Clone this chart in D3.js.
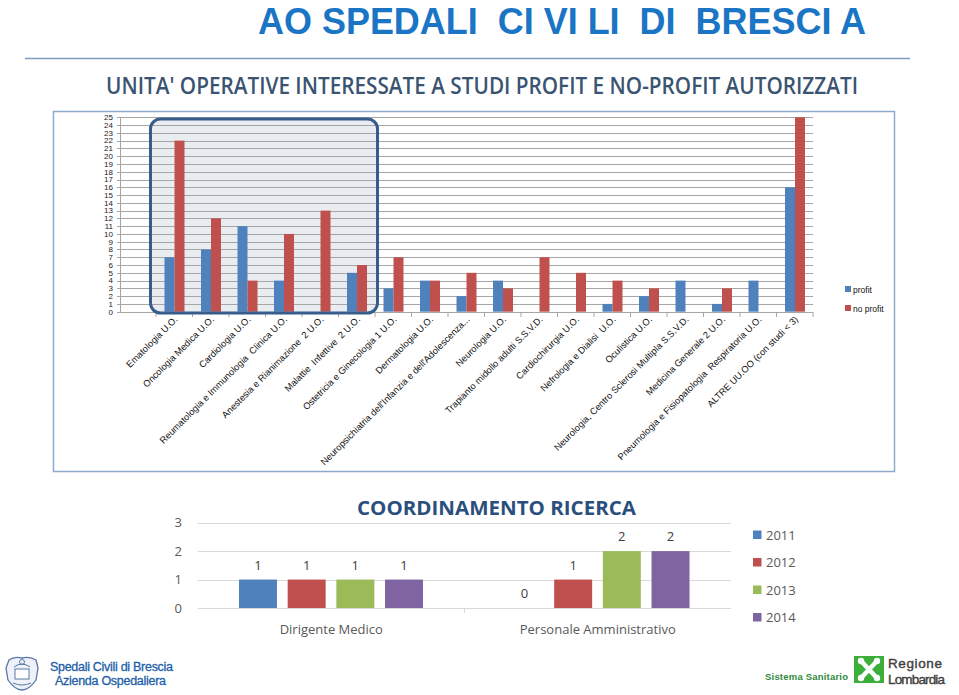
<!DOCTYPE html>
<html><head><meta charset="utf-8">
<script src="https://cdn.jsdelivr.net/npm/d3@7"></script>
<style>html,body{margin:0;padding:0;background:#fff;}svg{display:block;}</style>
</head><body>
<svg id="c" width="959" height="695"></svg>
<script>
// ---- data: top chart ----
const units = ["Ematologia U.O.", "Oncologia Medica U.O.", "Cardiologia U.O.",
  "Reumatologia e Immunologia  Clinica U.O.", "Anestesia e Rianimazione  2 U.O.",
  "Malattie  Infettive  2 U.O.", "Ostetricia e Ginecologia 1 U.O.", "Dermatologia U.O.",
  "Neuropsichiatria dell'Infanzia e dell'Adolescenza...", "Neurologia U.O.",
  "Trapianto midollo adulti S.S.V.D.", "Cardiochirurgia U.O.", "Nefrologia e Dialisi  U.O.",
  "Oculistica U.O.", "Neurologia, Centro Sclerosi Multipla S.S.V.D.", "Medicina Generale 2 U.O.",
  "Pneumologia e Fisiopatologia  Respiratoria U.O.", "ALTRE UU.OO (con studi < 3)"];
const profit   = [7, 8, 11, 4, 0, 5, 3, 4, 2, 4, 0, 0, 1, 2, 4, 1, 4, 16];
const noProfit = [22, 12, 4, 10, 13, 6, 7, 4, 5, 3, 7, 5, 4, 3, 0, 3, 0, 25];
const topSeries = ["profit", "no profit"];
const topTicks = d3.range(0, 26);

// ---- data: bottom chart ----
const roles = ["Dirigente Medico", "Personale Amministrativo"];
const years = ["2011", "2012", "2013", "2014"];
const v2011 = [1, 0];
const v2012 = [1, 1];
const v2013 = [1, 2];
const v2014 = [1, 2];
const bottomTicks = [0, 1, 2, 3];

const svg = d3.select("#c");
const BLUE = "#4f81bd", RED = "#c0504d", GREEN = "#9bbb59", PURPLE = "#8064a2";
const LIB = "Liberation Sans, Arial, sans-serif";

// ---- header ----
svg.append("text").attr("x", 258).attr("y", 33.5)
  .attr("textLength", 608).attr("lengthAdjust", "spacingAndGlyphs")
  .style("font-family", LIB).style("font-weight", "bold")
  .style("font-size", "37px").style("fill", "#1a75c5").style("white-space", "pre")
  .text("AO SPEDALI  CI VI LI  DI  BRESCI A");
svg.append("line").attr("x1", 25).attr("x2", 910).attr("y1", 58.5).attr("y2", 58.5)
  .attr("stroke", "#7f9cc4").attr("stroke-width", 1.5);
svg.append("text").attr("x", 106).attr("y", 94)
  .attr("textLength", 752).attr("lengthAdjust", "spacingAndGlyphs")
  .style("font-family", "Open Sans, Liberation Sans, sans-serif").style("font-weight", "600")
  .style("font-size", "23.5px").style("fill", "#3a5472")
  .text("UNITA' OPERATIVE INTERESSATE A STUDI PROFIT E NO-PROFIT AUTORIZZATI");

// ---- top chart ----
svg.append("rect").attr("x", 53.5).attr("y", 111.5).attr("width", 841).attr("height", 360)
  .attr("fill", "#fff").attr("stroke", "#8eaacb").attr("stroke-width", 1.5);

const yT = d3.scaleLinear().domain([0, 25]).range([311.7, 117.3]);
const xT = d3.scaleBand().domain(units).range([156, 813]);
const xT1 = d3.scaleBand().domain(topSeries).range([8.5, 28.5]);

// highlight box fill
svg.append("rect").attr("x", 150.5).attr("y", 119).attr("width", 227).attr("height", 194)
  .attr("rx", 10).attr("fill", "#e9edf2").attr("stroke", "none");

const gT = svg.append("g");
gT.selectAll("line.grid").data(topTicks).join("line")
  .attr("x1", 117).attr("x2", 813)
  .attr("y1", d => Math.round(yT(d)) + 0.5).attr("y2", d => Math.round(yT(d)) + 0.5)
  .attr("stroke", "#a6a6a6").attr("stroke-width", 1);
gT.append("line").attr("x1", 120.5).attr("x2", 120.5).attr("y1", 117).attr("y2", 312)
  .attr("stroke", "#a6a6a6");
gT.append("g").attr("transform", "translate(0,312)")
  .call(d3.axisBottom(xT).tickSize(0).tickFormat(""))
  .call(g => g.select(".domain").remove());
gT.append("line").attr("x1", 120).attr("x2", 813).attr("y1", 312.5).attr("y2", 312.5).attr("stroke", "#a6a6a6");
gT.selectAll("line.ctick").data(units).join("line")
  .attr("x1", d => xT(d) + xT.bandwidth()).attr("x2", d => xT(d) + xT.bandwidth())
  .attr("y1", 312).attr("y2", 317).attr("stroke", "#a6a6a6");
gT.append("line").attr("x1", xT(units[0])).attr("x2", xT(units[0])).attr("y1", 312).attr("y2", 317).attr("stroke", "#a6a6a6");

// y labels
gT.selectAll("text.yl").data(topTicks).join("text")
  .attr("x", 113).attr("y", d => yT(d)).attr("dy", "0.35em").attr("text-anchor", "end")
  .style("font-family", LIB).style("font-size", "8px")
  .style("fill", "#222").text(d => d);

// bars
const topData = units.map((u, i) => ({u, vals: [{k: "profit", v: profit[i]}, {k: "no profit", v: noProfit[i]}]}));
const grp = gT.selectAll("g.cat").data(topData).join("g")
  .attr("transform", d => `translate(${xT(d.u)},0)`);
grp.selectAll("rect").data(d => d.vals).join("rect")
  .attr("x", d => xT1(d.k)).attr("width", xT1.bandwidth())
  .attr("y", d => yT(d.v)).attr("height", d => yT(0) - yT(d.v))
  .attr("fill", d => d.k === "profit" ? BLUE : RED);

// highlight border
svg.append("rect").attr("x", 150.5).attr("y", 119).attr("width", 227).attr("height", 194)
  .attr("rx", 10).attr("fill", "none").attr("stroke", "#385d8a").attr("stroke-width", 3);

// x labels
gT.selectAll("text.xl").data(units).join("text")
  .attr("transform", d => `translate(${xT(d) + xT.bandwidth() / 2 + 4},320) rotate(-45)`)
  .attr("text-anchor", "end")
  .style("font-family", LIB).style("font-size", "9.3px")
  .style("fill", "#111").style("white-space", "pre").text(d => d);

// legend top
const lgT = gT.selectAll("g.lg").data(topSeries).join("g")
  .attr("transform", (d, i) => `translate(845,${286 + i * 19})`);
lgT.append("rect").attr("width", 6).attr("height", 6).attr("fill", (d, i) => i ? RED : BLUE);
lgT.append("text").attr("x", 8).attr("y", 6.5)
  .style("font-family", LIB).style("font-size", "8.5px")
  .style("fill", "#111").text(d => d);

// ---- bottom chart ----
const yB = d3.scaleLinear().domain([0, 3]).range([608, 522.7]);
const xB = d3.scaleBand().domain(roles).range([198, 731]);
const xB1 = d3.scaleBand().domain(years).range([41, 225]).paddingInner(0.22);
const colB = d3.scaleOrdinal().domain(years).range([BLUE, RED, GREEN, PURPLE]);
const gB = svg.append("g");
const FONT = "Open Sans, Liberation Sans, sans-serif";

gB.selectAll("line.g").data(bottomTicks).join("line")
  .attr("x1", 198).attr("x2", 731)
  .attr("y1", d => Math.round(yB(d)) + 0.5).attr("y2", d => Math.round(yB(d)) + 0.5)
  .attr("stroke", "#d9d9d9");
gB.append("line").attr("x1", 464.5).attr("x2", 464.5).attr("y1", 608).attr("y2", 613).attr("stroke", "#d9d9d9");
gB.selectAll("text.yl").data(bottomTicks).join("text")
  .attr("x", 182).attr("y", d => yB(d)).attr("dy", "0.35em").attr("text-anchor", "end")
  .style("font-family", FONT).style("font-size", "13px").style("fill", "#595959").text(d => d);

const botData = roles.map((r, i) => ({r, vals: [
  {y: "2011", v: v2011[i]}, {y: "2012", v: v2012[i]}, {y: "2013", v: v2013[i]}, {y: "2014", v: v2014[i]}]}));
const gb = gB.selectAll("g.r").data(botData).join("g")
  .attr("transform", d => `translate(${xB(d.r)},0)`);
gb.selectAll("rect").data(d => d.vals).join("rect")
  .attr("x", d => xB1(d.y)).attr("width", xB1.bandwidth())
  .attr("y", d => yB(d.v)).attr("height", d => yB(0) - yB(d.v)).attr("fill", d => colB(d.y));
gb.selectAll("text").data(d => d.vals).join("text")
  .attr("x", d => xB1(d.y) + xB1.bandwidth() / 2).attr("y", d => yB(d.v) - 10)
  .attr("text-anchor", "middle").style("font-family", FONT).style("font-size", "13px")
  .style("fill", "#404040").text(d => d.v);

gB.selectAll("text.cl").data(roles).join("text")
  .attr("x", d => xB(d) + xB.bandwidth() / 2).attr("y", 634).attr("text-anchor", "middle")
  .style("font-family", FONT).style("font-size", "13px").style("fill", "#595959").text(d => d);

svg.append("text").attr("x", 357).attr("y", 515)
  .attr("textLength", 279).attr("lengthAdjust", "spacingAndGlyphs")
  .style("font-family", FONT).style("font-weight", "bold").style("font-size", "20px")
  .style("fill", "#2b4f7c").text("COORDINAMENTO RICERCA");

const lgB = gB.selectAll("g.lg").data(years).join("g")
  .attr("transform", (d, i) => `translate(753,${530.5 + i * 27.5})`);
lgB.append("rect").attr("width", 8.5).attr("height", 8.5).attr("fill", d => colB(d));
lgB.append("text").attr("x", 13).attr("y", 9)
  .style("font-family", FONT).style("font-size", "13px").style("fill", "#595959").text(d => d);

// ---- footer ----
const crest = svg.append("g").attr("transform", "translate(5,656)");
crest.append("path").attr("d", "M4,4 Q9,0 17,2 Q25,0 31,4 L33,12 L31,24 Q24,34 17,34 Q10,34 3,24 L1,12 Z")
  .attr("fill", "#eef2f8").attr("stroke", "#5a78a6").attr("stroke-width", 1.3);
crest.append("rect").attr("x", 10).attr("y", 13).attr("width", 14).attr("height", 10)
  .attr("fill", "#fff").attr("stroke", "#5a78a6");
crest.append("path").attr("d", "M9,11 Q17,5 25,11").attr("fill", "none").attr("stroke", "#5a78a6");
crest.append("circle").attr("cx", 17).attr("cy", 6).attr("r", 2.5).attr("fill", "none").attr("stroke", "#5a78a6");
crest.append("path").attr("d", "M8,27 Q17,31 26,27").attr("fill", "none").attr("stroke", "#5a78a6");
svg.append("text").attr("x", 50).attr("y", 671).attr("textLength", 123)
  .style("font-family", LIB).style("font-size", "12.5px").style("fill", "#1c5ea8")
  .style("stroke", "#1c5ea8").style("stroke-width", 0.3).text("Spedali Civili di Brescia");
svg.append("text").attr("x", 55).attr("y", 685).attr("textLength", 111)
  .style("font-family", LIB).style("font-size", "12.5px").style("fill", "#1c5ea8")
  .style("stroke", "#1c5ea8").style("stroke-width", 0.3).text("Azienda Ospedaliera");

svg.append("text").attr("x", 765).attr("y", 679.5).attr("textLength", 83)
  .style("font-family", LIB).style("font-weight", "bold")
  .style("font-size", "9.5px").style("fill", "#2f8a3e").text("Sistema Sanitario");
const rl = svg.append("g").attr("transform", "translate(854,656)");
rl.append("rect").attr("width", 30).attr("height", 27).attr("fill", "#3cae3a");
rl.append("path").attr("d", "M8,6 L22,21 M22,6 L8,21").attr("stroke", "#fff")
  .attr("stroke-width", 4.5).attr("stroke-linecap", "round");
[[7,5],[23,5],[7,22],[23,22]].forEach(p => rl.append("circle").attr("cx", p[0]).attr("cy", p[1]).attr("r", 3.2).attr("fill", "#fff"));
svg.append("text").attr("x", 888).attr("y", 668).attr("textLength", 54)
  .style("font-family", LIB).style("font-size", "13.5px").style("fill", "#404040")
  .style("stroke", "#404040").style("stroke-width", 0.4).text("Regione");
svg.append("text").attr("x", 888).attr("y", 684).attr("textLength", 57)
  .style("font-family", LIB).style("font-size", "13.5px").style("fill", "#404040")
  .style("stroke", "#404040").style("stroke-width", 0.4).text("Lombardia");
</script>
</body></html>
